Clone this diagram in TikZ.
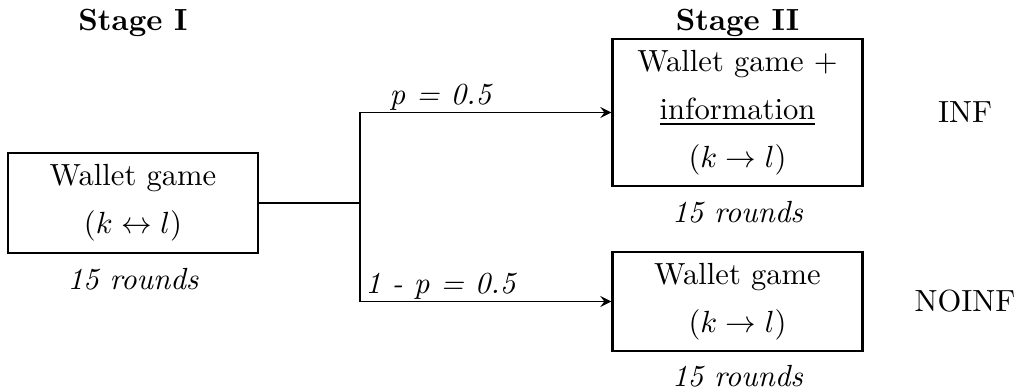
\documentclass[tikz,border=0pt]{standalone}
\usepackage{amsmath}
\usepackage{tikz}
\usetikzlibrary{positioning,arrows}

\begin{document}
\begin{tikzpicture}[game/.style={draw, thick, align=center, minimum width=2.87cm},
      rounds/.style={font=\itshape},
      prob/.style={above, inner sep=0.5pt, font=\itshape},
      stagelabel/.style={anchor=base, font=\bfseries}]
      \useasboundingbox (0,0) rectangle (11.674,-4.493);

      % stage I
      \node[stagelabel] (stage-one) at (1.528,-0.345) {Stage I};
      \node[game, minimum height=1.15cm] (wallet) at (1.528,-2.332)
      {Wallet game\\[3.6pt] $(k \leftrightarrow l)$};
      \node[rounds, below=0.04cm of wallet] (wallet-rounds) {15 rounds};

      % stage II
      \node[stagelabel] (stage-two) at (8.474,-0.345) {Stage II};
      \node[game, minimum height=1.69cm] (inf) at (8.474,-1.293)
      {Wallet game +\\[3.6pt] \underline{information}\\[3.6pt] $(k \rightarrow l)$};
      \node[rounds, below=0.04cm of inf] (inf-rounds) {15 rounds};
      \node[game, minimum height=1.14cm] (noinf) at (8.474,-3.464)
      {Wallet game\\[3.6pt] $(k \rightarrow l)$};
      \node[rounds, below=0.02cm of noinf] (noinf-rounds) {15 rounds};

      \node (inf-label) at (11.088,-1.293) {INF};
      \node (noinf-label) at (11.088,-3.464) {NOINF};

      % random split
      \coordinate (split) at (4.136,-2.332);
      \draw[semithick] (wallet.east) -- (split);
      \draw[semithick, -stealth] (split) |- (inf.west) node[prob, pos=0.66] {p = 0.5};
      \draw[semithick, -stealth] (split) |- (noinf.west) node[prob, pos=0.66] {1 - p = 0.5};
    \end{tikzpicture}
\end{document}
